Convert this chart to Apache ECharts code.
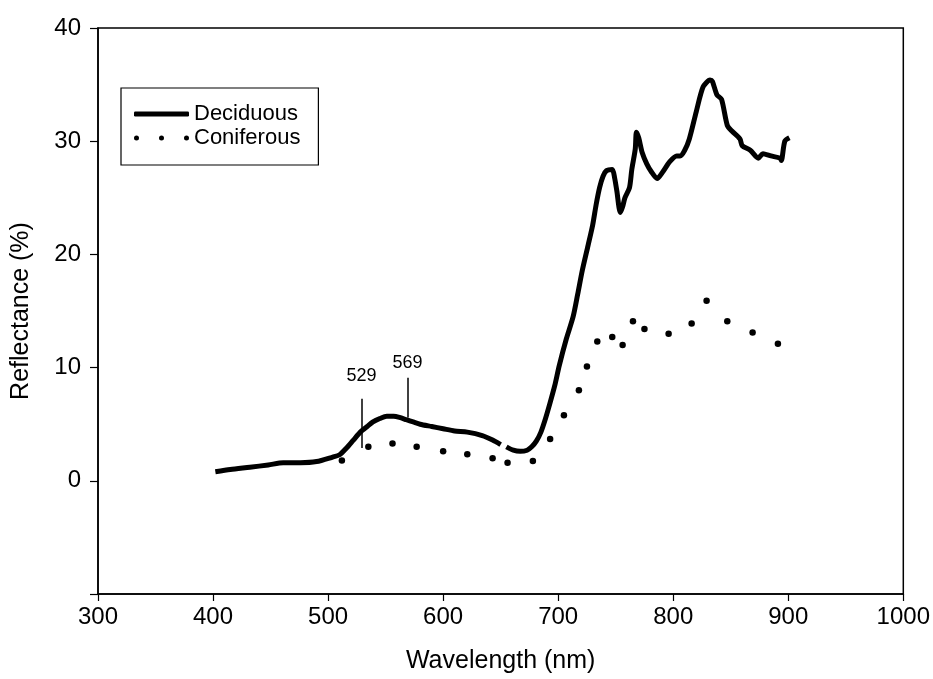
<!DOCTYPE html>
<html>
<head>
<meta charset="utf-8">
<title>Reflectance spectra</title>
<script src="https://cdn.jsdelivr.net/npm/echarts@6/dist/echarts.min.js"></script>
<style>
  html, body { margin: 0; padding: 0; background: #fff; }
  #chart { width: 933px; height: 679px; }
</style>
</head>
<body>
<div id="chart"></div>
<script>
// Deciduous canopy reflectance: wavelength (nm) and reflectance (%); null marks the short break in the trace
const deciduousWavelength = [
  402, 415, 432, 448, 461, 476, 490, 504, 510, 516, 522, 528, 534, 539, 545, 551, 557, 562,
  568, 574, 580, 590, 600, 610, 621, 634, 643, 650, 652, 655, 661, 667, 673, 677, 681, 685,
  689, 693, 697, 701, 707, 713, 717, 721, 726, 730, 733, 736, 739, 742, 747, 749, 751, 754,
  756, 758, 762, 764, 767, 768, 770, 773, 777, 781, 786, 791, 797, 803, 806, 810, 814, 820,
  826, 832, 834, 838, 842, 847, 851, 858, 860, 867, 874, 878, 885, 893, 894, 897, 901
];
const deciduousReflectance = [
  0.8, 1.0, 1.2, 1.4, 1.6, 1.6, 1.7, 2.1, 2.3, 2.9, 3.6, 4.3, 4.8, 5.2, 5.5, 5.7, 5.7, 5.6,
  5.4, 5.2, 5.0, 4.8, 4.6, 4.4, 4.3, 4.0, 3.6, 3.2, null, 3.0, 2.7, 2.6, 2.7, 3.0, 3.5, 4.3,
  5.5, 6.9, 8.4, 10.2, 12.5, 14.5, 16.5, 18.6, 20.8, 22.6, 24.4, 25.9, 26.9, 27.4, 27.5, 26.8, 25.6, 23.7,
  24.2, 25.0, 25.9, 27.5, 29.3, 30.8, 30.3, 29.0, 28.0, 27.3, 26.7, 27.3, 28.2, 28.7, 28.7, 29.2, 30.2, 32.6,
  34.8, 35.4, 35.3, 34.1, 33.7, 31.4, 30.9, 30.2, 29.6, 29.2, 28.5, 28.9, 28.7, 28.5, 28.3, 30.0, 30.3
];

// Coniferous canopy reflectance, sampled points
const coniferousWavelength = [
  512, 535, 556, 577, 600, 621, 643, 656, 678, 693, 705, 718, 725, 734, 747, 756,
  765, 775, 796, 816, 829, 847, 869, 891
];
const coniferousReflectance = [
  1.8, 3.0, 3.3, 3.0, 2.6, 2.35, 2.0, 1.6, 1.75, 3.7, 5.8, 8.0, 10.1, 12.3, 12.7, 12.0,
  14.1, 13.4, 13.0, 13.9, 15.9, 14.1, 13.1, 12.1
];

// Marked wavelengths and the reflectance span of each marker line
const markedWavelength = [529, 569];
const markerLow = [2.9, 5.6];
const markerHigh = [7.25, 9.1];

const xTicks = { min: 300, max: 1000, step: 100 };
const yTicks = { min: -10, max: 40, step: 10 };

const FONT = "'Liberation Sans', Arial, Helvetica, sans-serif";

const toPairs = (xs, ys) => xs.map((x, i) => [x, ys[i] === null ? '-' : ys[i]]);

const markerLines = markedWavelength.map((w, i) => [
  { coord: [w, markerLow[i]], label: { distance: i === 0 ? 14 : 6 } },
  { coord: [w, markerHigh[i]] }
]);

const chart = echarts.init(document.getElementById('chart'), null, { renderer: 'canvas' });

chart.setOption({
  animation: false,
  backgroundColor: '#fff',
  textStyle: { fontFamily: FONT, color: '#000' },
  grid: {
    left: 98, right: 29, top: 28, bottom: 79,
    show: true, borderColor: '#000', borderWidth: 1.5, backgroundColor: 'transparent'
  },
  legend: {
    orient: 'vertical',
    left: 121, top: 88,
    backgroundColor: '#fff',
    borderColor: '#000', borderWidth: 1.2,
    padding: [15, 18, 16, 13],
    itemWidth: 55, itemHeight: 5,
    itemGap: 2, itemTextGap: 14,
    itemStyle: { opacity: 1 },
    textStyle: { fontFamily: FONT, fontSize: 22, color: '#000', lineHeight: 22 },
    selectedMode: false,
    data: [
      { name: 'Deciduous', icon: 'roundRect' },
      {
        name: 'Coniferous',
        icon: 'path://M0,2.5a2.5,2.5 0 1,0 5,0a2.5,2.5 0 1,0 -5,0zM25,2.5a2.5,2.5 0 1,0 5,0a2.5,2.5 0 1,0 -5,0zM50,2.5a2.5,2.5 0 1,0 5,0a2.5,2.5 0 1,0 -5,0z'
      }
    ]
  },
  xAxis: {
    type: 'value',
    min: xTicks.min, max: xTicks.max, interval: xTicks.step,
    name: 'Wavelength (nm)',
    nameLocation: 'middle',
    nameGap: 55,
    nameTextStyle: { fontFamily: FONT, fontSize: 25, color: '#000' },
    axisLine: { show: true, onZero: false, lineStyle: { color: '#000', width: 1.5 } },
    axisTick: { show: true, inside: false, length: 7, lineStyle: { color: '#000', width: 1.2 } },
    axisLabel: {
      fontFamily: FONT, fontSize: 24, color: '#000', margin: 11,
      formatter: v => String(v)
    },
    splitLine: { show: false }
  },
  yAxis: {
    type: 'value',
    min: yTicks.min, max: yTicks.max, interval: yTicks.step,
    name: 'Reflectance (%)',
    nameLocation: 'middle',
    nameGap: 64,
    nameRotate: 90,
    nameTextStyle: { fontFamily: FONT, fontSize: 25, color: '#000' },
    axisLine: { show: true, onZero: false, lineStyle: { color: '#000', width: 1.5 } },
    axisTick: { show: true, inside: false, length: 8, lineStyle: { color: '#000', width: 1.2 } },
    axisLabel: {
      fontFamily: FONT, fontSize: 24, color: '#000', margin: 17,
      formatter: v => (v < 0 ? '' : String(v))
    },
    splitLine: { show: false }
  },
  series: [
    {
      name: 'Deciduous',
      type: 'line',
      data: toPairs(deciduousWavelength, deciduousReflectance),
      showSymbol: false,
      connectNulls: false,
      smooth: 0.25,
      itemStyle: { color: '#000' },
      lineStyle: { color: '#000', width: 5, cap: 'butt', join: 'round' },
      markLine: {
        silent: true,
        symbol: 'none',
        lineStyle: { color: '#000', width: 1.5, type: 'solid' },
        label: {
          show: true,
          position: 'end',
          fontFamily: FONT,
          fontSize: 18,
          color: '#000',
          formatter: p => String(p.data.coord[0])
        },
        data: markerLines
      },
      z: 3
    },
    {
      name: 'Coniferous',
      type: 'scatter',
      data: toPairs(coniferousWavelength, coniferousReflectance),
      symbol: 'circle',
      symbolSize: 6.5,
      itemStyle: { color: '#000', opacity: 1 },
      z: 2
    }
  ]
});
</script>
</body>
</html>
